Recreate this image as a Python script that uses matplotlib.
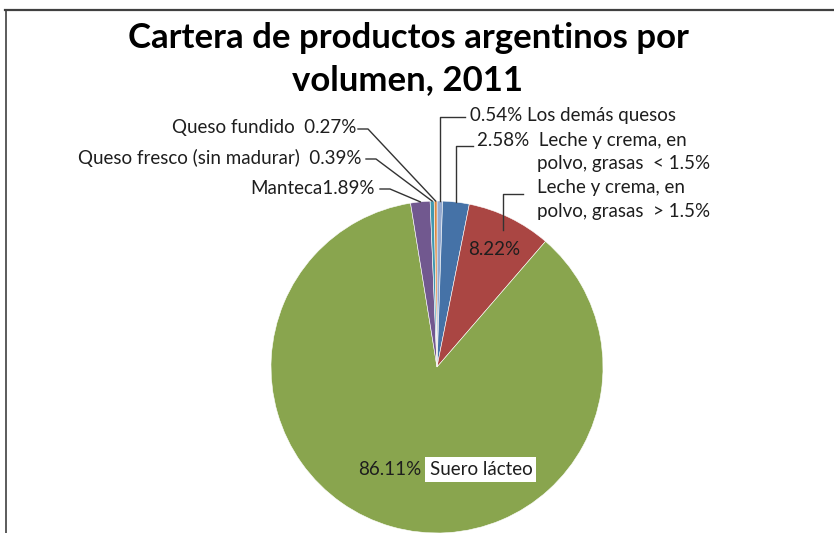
import matplotlib
matplotlib.use("Agg")
import numpy as np
import matplotlib.pyplot as plt
from matplotlib.lines import Line2D

plt.rcParams['font.family'] = ['Lato', 'DejaVu Sans']

# datos (orden horario desde las 12)
productos = ["Los demás quesos", "Leche y crema, en polvo, grasas < 1.5%",
             "Leche y crema, en polvo, grasas > 1.5%", "Suero lácteo",
             "Manteca", "Queso fresco (sin madurar)", "Queso fundido"]
porcentajes = [0.54, 2.58, 8.22, 86.11, 1.89, 0.39, 0.27]
colores = ["#93A9CF", "#4572A7", "#AA4643", "#89A54E", "#71588F", "#4198AF", "#DB843D"]

W, H = 834, 533
CX, CY, R = 437, 367, 166  # centro y radio del pastel en pixeles
FS = 13.5
TXT = "#1e1e1e"

fig = plt.figure(figsize=(W / 100, H / 100), dpi=100)
ax = fig.add_axes([(CX - R) / W, (H - CY - R) / H, 2 * R / W, 2 * R / H])
wedges, _ = ax.pie(porcentajes, colors=colores, startangle=90, counterclock=False,
                   radius=1, wedgeprops=dict(edgecolor="white", linewidth=0.4))
ax.set_xlim(-1, 1)
ax.set_ylim(-1, 1)
ax.set_aspect("equal")
ax.axis("off")


def px(x, y):
    # pixel -> datos del eje del pastel
    return (x - CX) / R, (CY - y) / R


def borde(w, r=1.0):
    a = np.deg2rad((w.theta1 + w.theta2) / 2)
    return r * np.cos(a), r * np.sin(a)


def linea(puntos):
    xs = [p[0] for p in puntos]
    ys = [p[1] for p in puntos]
    ax.add_line(Line2D(xs, ys, color="#333333", lw=1.0, clip_on=False))


def ftext(x, y, s, **kw):
    kw.setdefault("fontsize", FS)
    kw.setdefault("va", "center")
    kw.setdefault("color", TXT)
    fig.text(x / W, 1 - y / H, s, **kw)


# titulo
ftext(408, 38, "Cartera de productos argentinos por", fontsize=25, fontweight="bold",
      ha="center", color="black")
ftext(408, 80, "volumen, 2011", fontsize=25, fontweight="bold", ha="center", color="black")

# marco
fig.add_artist(Line2D([5 / W, 1], [1 - 10 / H, 1 - 10 / H], color="#404040", lw=1.6))
fig.add_artist(Line2D([6 / W, 6 / W], [1 - 10 / H, 0], color="#404040", lw=1.2))

# etiquetas lado izquierdo
ftext(356, 128, "Queso fundido  0.27%", ha="right")
ftext(362, 158, "Queso fresco (sin madurar)  0.39%", ha="right")
ftext(375, 188, "Manteca1.89%", ha="right")
for w, (x0, y0) in zip([wedges[6], wedges[5], wedges[4]], [(358, 129), (366, 159), (380, 189)]):
    bx, by = borde(w)
    linea([px(x0, y0), px(x0 + 10, y0), (bx, by)])

# etiquetas lado derecho
ftext(470, 115, "0.54% Los demás quesos", ha="left")
bx, by = borde(wedges[0])
linea([px(465, 117), (bx, px(0, 117)[1]), (bx, by)])

ftext(477, 140, "2.58%  Leche y crema, en", ha="left")
ftext(537, 164, "polvo, grasas  < 1.5%", ha="left")
bx, by = borde(wedges[1])
linea([px(473, 146), (bx, px(0, 146)[1]), (bx, by)])

ftext(537, 187, "Leche y crema, en", ha="left")
ftext(537, 212, "polvo, grasas  > 1.5%", ha="left")
linea([px(523, 194), px(503, 194), px(503, 230)])

# etiquetas dentro del pastel
tx, ty = borde(wedges[2], 0.79)
ax.text(tx, ty, f"{porcentajes[2]:.2f}%", fontsize=FS, ha="center", va="center", color=TXT)
tx, ty = borde(wedges[3], 0.64)
ax.text(tx + 0.08, ty, f"{porcentajes[3]:.2f}%", fontsize=FS, ha="right", va="center", color=TXT)
ax.text(tx + 0.13, ty, productos[3], fontsize=FS, ha="left", va="center", color=TXT,
        bbox=dict(facecolor="white", edgecolor="none", pad=3))

fig.savefig("out.png", dpi=100)
